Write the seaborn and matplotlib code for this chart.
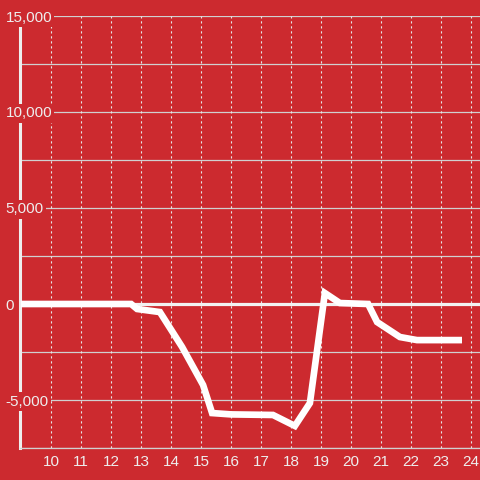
import matplotlib
matplotlib.use("Agg")
import matplotlib.pyplot as plt
import seaborn as sns
import numpy as np
import pandas as pd

# values
hours = [9.0, 12.67, 12.87, 13.63, 14.37, 15.07, 15.37, 16.0, 17.4,
         18.13, 18.63, 19.13, 19.63, 20.57, 20.87, 21.63, 22.2, 23.7]
values = [0, 0, -260, -420, -2240, -4220, -5680, -5750, -5780,
          -6350, -5160, 570, 50, 0, -940, -1720, -1880, -1880]

x_ticks = list(range(10, 25))
y_ticks = [-7500, -5000, -2500, 0, 2500, 5000, 7500, 10000, 12500, 15000]
y_labels = ["", "-5,000", "", "0", "", "5,000", "", "10,000", "", "15,000"]

red = "#cc2a2f"
light = "#eeeeee"

df = pd.DataFrame({"hour": hours, "value": values})

sns.set_style("white")
plt.rcParams["font.family"] = ["Liberation Sans", "DejaVu Sans"]

fig = plt.figure(figsize=(4.8, 4.8), dpi=100, facecolor=red)
ax = fig.add_axes([20 / 480, 32 / 480, 460 / 480, 432 / 480])
ax.set_facecolor(red)
ax.set_axisbelow(False)

# grid
for t in y_ticks:
    ax.axhline(t, color="#d0d0d0", lw=0.9, zorder=1)
for t in x_ticks:
    ax.axvline(t, color="#e6e6e6", lw=0.8, ls=(0, (2, 2.5)), zorder=1)
ax.axhline(0, color="#f2f2f2", lw=2.3, zorder=2)

sns.lineplot(data=df, x="hour", y="value", ax=ax, color="white",
             lw=4.8, estimator=None, zorder=3)
for ln in ax.lines[-1:]:
    ln.set_solid_capstyle("butt")
    ln.set_solid_joinstyle("miter")

ax.set_xlim(8.967, 24.3)
ax.set_ylim(-7500, 15000)
ax.set_xticks(x_ticks)
ax.set_xticklabels([str(t) for t in x_ticks])
ax.set_yticks(y_ticks)
ax.set_yticklabels(y_labels)
ax.set_xlabel("")
ax.set_ylabel("")

ax.tick_params(axis="x", length=0, pad=5, labelsize=11, colors=light)
ax.tick_params(axis="y", length=0, pad=10.5, labelsize=11, colors=light)

for s in ["top", "right"]:
    ax.spines[s].set_visible(False)
ax.spines["left"].set_color(light)
ax.spines["left"].set_linewidth(2.2)
ax.spines["left"].set_zorder(2)
ax.spines["bottom"].set_color("#d0d0d0")
ax.spines["bottom"].set_linewidth(0.9)

fig.canvas.draw()
for lab in ax.get_yticklabels():
    lab.set_horizontalalignment("left")
    lab.set_bbox(dict(facecolor=red, edgecolor="none", pad=1.5))

fig.savefig("out.png", dpi=100, facecolor=red)
